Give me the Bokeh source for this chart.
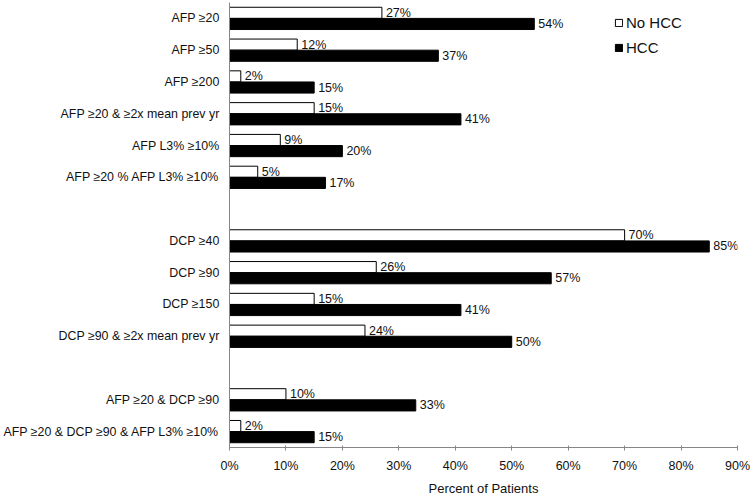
from bokeh.plotting import figure
from bokeh.models import (ColumnDataSource, FactorRange, Range1d, FixedTicker,
                          PrintfTickFormatter, Legend, LegendItem)
from bokeh.transform import dodge
from bokeh.core.properties import value
from bokeh.embed import file_html
from bokeh.resources import INLINE

# ---- data ----
categories = [
    "AFP ≥20",
    "AFP ≥50",
    "AFP ≥200",
    "AFP ≥20 & ≥2x mean prev yr",
    "AFP L3% ≥10%",
    "AFP ≥20 % AFP L3% ≥10%",
    "DCP ≥40",
    "DCP ≥90",
    "DCP ≥150",
    "DCP ≥90 & ≥2x mean prev yr",
    "AFP ≥20 & DCP ≥90",
    "AFP ≥20 & DCP ≥90 & AFP L3% ≥10%",
]
no_hcc = [27, 12, 2, 15, 9, 5, 70, 26, 15, 24, 10, 2]
hcc = [54, 37, 15, 41, 20, 17, 85, 57, 41, 50, 33, 15]
x_ticks = [0, 10, 20, 30, 40, 50, 60, 70, 80, 90]

# category order on the axis, with blank spacer rows between groups
factors = categories[:6] + [" "] + categories[6:10] + ["  "] + categories[10:]

src = ColumnDataSource(dict(
    cat=categories,
    no_hcc=no_hcc,
    hcc=hcc,
    no_lab=[f"{v}%" for v in no_hcc],
    hcc_lab=[f"{v}%" for v in hcc],
))

FONT = "Liberation Sans"
TXT = "#111111"
AX = "#868686"
OFF = 0.175
H = 0.35

p = figure(width=750, height=498,
           y_range=FactorRange(factors=list(reversed(factors))),
           x_range=Range1d(0, 90),
           output_backend="svg", toolbar_location=None,
           min_border_left=228, min_border_right=13,
           min_border_top=2, min_border_bottom=46)

r1 = p.hbar(y=dodge("cat", OFF, range=p.y_range), left=0, right="no_hcc",
            height=H, fill_color="white", line_color="black", line_width=1,
            source=src)
r2 = p.hbar(y=dodge("cat", -OFF, range=p.y_range), left=0, right="hcc",
            height=H, fill_color="black", line_color="black", line_width=1,
            source=src)

p.text(x="no_hcc", y=dodge("cat", OFF, range=p.y_range), text="no_lab",
       x_offset=4, text_baseline="middle", text_align="left",
       text_font=value(FONT), text_font_size="12.5px", text_color=TXT, source=src)
p.text(x="hcc", y=dodge("cat", -OFF, range=p.y_range), text="hcc_lab",
       x_offset=4, text_baseline="middle", text_align="left",
       text_font=value(FONT), text_font_size="12.5px", text_color=TXT, source=src)

legend = Legend(items=[LegendItem(label="No HCC", renderers=[r1]),
                       LegendItem(label="HCC", renderers=[r2])],
                location=(385, 390), orientation="vertical")
legend.border_line_color = None
legend.background_fill_alpha = 0
legend.padding = 0
legend.margin = 0
legend.spacing = 5
legend.label_height = 20
legend.glyph_height = 9
legend.glyph_width = 9
legend.label_standoff = 3
legend.label_text_font = FONT
legend.label_text_font_size = "15px"
legend.label_text_color = TXT
p.add_layout(legend, "center")

p.xgrid.visible = False
p.ygrid.visible = False
p.outline_line_color = None

xa = p.xaxis[0]
xa.ticker = FixedTicker(ticks=x_ticks)
xa.formatter = PrintfTickFormatter(format="%d%%")
xa.axis_line_color = AX
xa.major_tick_line_color = AX
xa.major_tick_in = 2
xa.major_tick_out = 3
xa.minor_tick_line_color = None
xa.major_label_standoff = 8
xa.major_label_text_font = FONT
xa.major_label_text_font_size = "12.5px"
xa.major_label_text_color = TXT
xa.axis_label = "Percent of Patients"
xa.axis_label_text_font = FONT
xa.axis_label_text_font_size = "13px"
xa.axis_label_text_font_style = "normal"
xa.axis_label_text_color = TXT
xa.axis_label_standoff = 5

ya = p.yaxis[0]
ya.axis_line_color = AX
ya.major_tick_line_color = None
ya.minor_tick_line_color = None
ya.major_label_standoff = 4
ya.major_label_text_font = FONT
ya.major_label_text_font_size = "12.4px"
ya.major_label_text_color = TXT

open("out.html", "w").write(file_html(p, INLINE))
